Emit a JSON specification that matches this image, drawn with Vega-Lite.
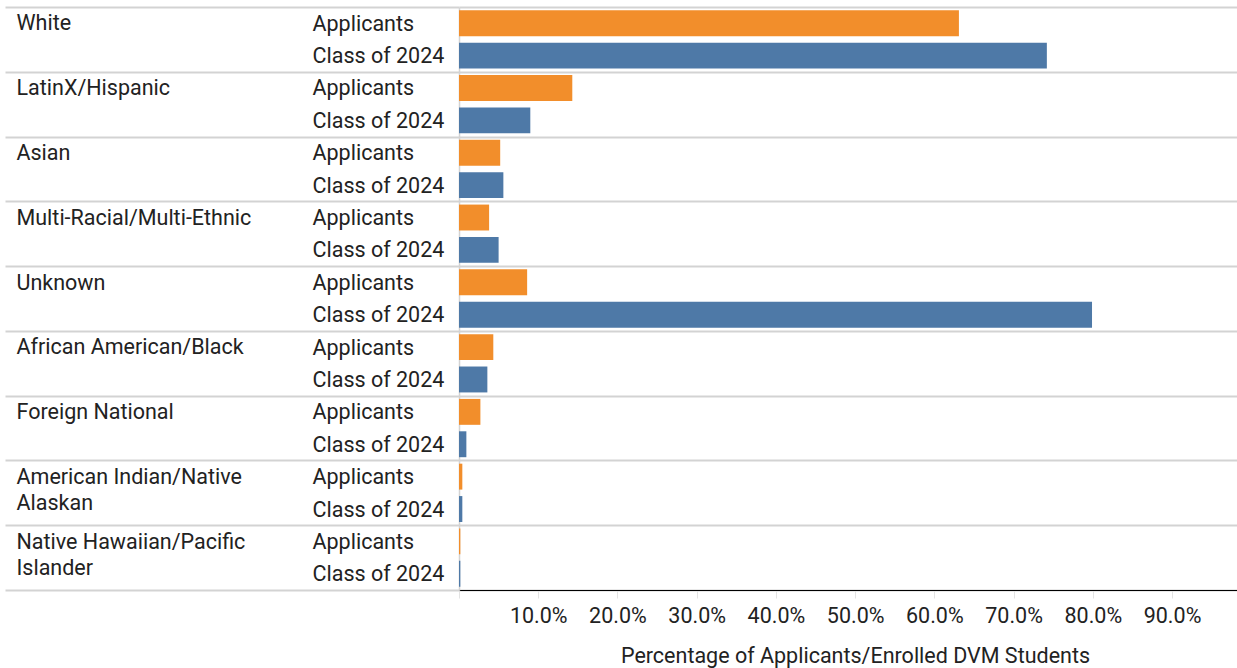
{
  "$schema": "https://vega.github.io/schema/vega-lite/v6.json",
  "width": 778,
  "height": 583,
  "autosize": {"type": "none"},
  "padding": {"left": 459, "top": 7, "right": 0, "bottom": 78},
  "config": {"font": "Roboto", "view": {"stroke": null}},
  "data": {
    "values": [
      {"group": "White", "type": "Applicants", "pct": 0.631},
      {"group": "White", "type": "Class of 2024", "pct": 0.742},
      {"group": "LatinX/Hispanic", "type": "Applicants", "pct": 0.143},
      {"group": "LatinX/Hispanic", "type": "Class of 2024", "pct": 0.090},
      {"group": "Asian", "type": "Applicants", "pct": 0.052},
      {"group": "Asian", "type": "Class of 2024", "pct": 0.056},
      {"group": "Multi-Racial/Multi-Ethnic", "type": "Applicants", "pct": 0.038},
      {"group": "Multi-Racial/Multi-Ethnic", "type": "Class of 2024", "pct": 0.050},
      {"group": "Unknown", "type": "Applicants", "pct": 0.086},
      {"group": "Unknown", "type": "Class of 2024", "pct": 0.799},
      {"group": "African American/Black", "type": "Applicants", "pct": 0.0433},
      {"group": "African American/Black", "type": "Class of 2024", "pct": 0.0358},
      {"group": "Foreign National", "type": "Applicants", "pct": 0.027},
      {"group": "Foreign National", "type": "Class of 2024", "pct": 0.0093},
      {"group": "American Indian/Native Alaskan", "type": "Applicants", "pct": 0.0042},
      {"group": "American Indian/Native Alaskan", "type": "Class of 2024", "pct": 0.0042},
      {"group": "Native Hawaiian/Pacific Islander", "type": "Applicants", "pct": 0.0017},
      {"group": "Native Hawaiian/Pacific Islander", "type": "Class of 2024", "pct": 0.0017}
    ]
  },
  "transform": [{"calculate": "datum.group + ' | ' + datum.type", "as": "key"}],
  "layer": [
    {
      "mark": {"type": "bar", "opacity": 0},
      "encoding": {
        "y": {
          "field": "group",
          "type": "nominal",
          "sort": null,
          "scale": {"paddingInner": 0, "paddingOuter": 0},
          "axis": {
            "orient": "left",
            "title": null,
            "domain": false,
            "ticks": true,
            "tickBand": "extent",
            "tickSize": 454,
            "tickColor": "#d3d3d3",
            "tickWidth": 2,
            "grid": true,
            "gridColor": "#d3d3d3",
            "gridWidth": 2,
            "labelAlign": "left",
            "labelBaseline": "top",
            "labelOffset": -26.5,
            "labelPadding": -11,
            "labelFont": "Roboto",
            "labelFontSize": 21.5,
            "labelColor": "#222222",
            "labelLimit": 0,
            "labelOverlap": false,
            "labelLineHeight": 26,
            "labelExpr": "datum.value == 'American Indian/Native Alaskan' ? ['American Indian/Native', 'Alaskan'] : datum.value == 'Native Hawaiian/Pacific Islander' ? ['Native Hawaiian/Pacific', 'Islander'] : datum.value"
          }
        },
        "x": {
          "field": "pct",
          "type": "quantitative",
          "stack": null,
          "scale": {"domain": [0, 0.982], "nice": false, "zero": true},
          "axis": {
            "values": [0, 0.1, 0.2, 0.3, 0.4, 0.5, 0.6, 0.7, 0.8, 0.9],
            "format": ".1%",
            "labelExpr": "datum.value == 0 ? '' : datum.label",
            "grid": false,
            "domainColor": "#000000",
            "domainWidth": 1,
            "tickColor": "#e3e3e3",
            "tickSize": 8,
            "labelPadding": 7,
            "labelFont": "Roboto",
            "labelFontSize": 21.5,
            "labelColor": "#222222",
            "title": "Percentage of Applicants/Enrolled DVM Students",
            "titleFont": "Roboto",
            "titleFontSize": 21.5,
            "titleFontWeight": "normal",
            "titleColor": "#222222",
            "titlePadding": 19,
            "titleX": 396
          }
        }
      }
    },
    {
      "mark": {"type": "bar"},
      "encoding": {
        "y": {
          "field": "key",
          "type": "nominal",
          "sort": null,
          "scale": {"paddingInner": 0.2, "paddingOuter": 0.1},
          "axis": {
            "orient": "left",
            "title": null,
            "ticks": false,
            "tickSize": 0,
            "domain": true,
            "domainColor": "#d3d3d3",
            "domainWidth": 1.5,
            "grid": false,
            "labelAlign": "left",
            "labelBaseline": "middle",
            "labelOffset": 1.5,
            "labelPadding": 147,
            "labelFont": "Roboto",
            "labelFontSize": 21.5,
            "labelColor": "#222222",
            "labelLimit": 0,
            "labelOverlap": false,
            "labelExpr": "split(datum.value, ' | ')[1]"
          }
        },
        "x": {
          "field": "pct",
          "type": "quantitative",
          "stack": null,
          "scale": {"domain": [0, 0.982], "nice": false, "zero": true},
          "axis": {
            "values": [0, 0.1, 0.2, 0.3, 0.4, 0.5, 0.6, 0.7, 0.8, 0.9],
            "format": ".1%",
            "labelExpr": "datum.value == 0 ? '' : datum.label",
            "grid": false,
            "domainColor": "#000000",
            "domainWidth": 1,
            "tickColor": "#e3e3e3",
            "tickSize": 8,
            "labelPadding": 7,
            "labelFont": "Roboto",
            "labelFontSize": 21.5,
            "labelColor": "#222222",
            "title": "Percentage of Applicants/Enrolled DVM Students",
            "titleFont": "Roboto",
            "titleFontSize": 21.5,
            "titleFontWeight": "normal",
            "titleColor": "#222222",
            "titlePadding": 19,
            "titleX": 396
          }
        },
        "color": {
          "field": "type",
          "type": "nominal",
          "scale": {"domain": ["Applicants", "Class of 2024"], "range": ["#f28e2b", "#4e79a7"]},
          "legend": null
        }
      }
    }
  ],
  "resolve": {"scale": {"y": "independent"}, "axis": {"y": "independent"}}
}
